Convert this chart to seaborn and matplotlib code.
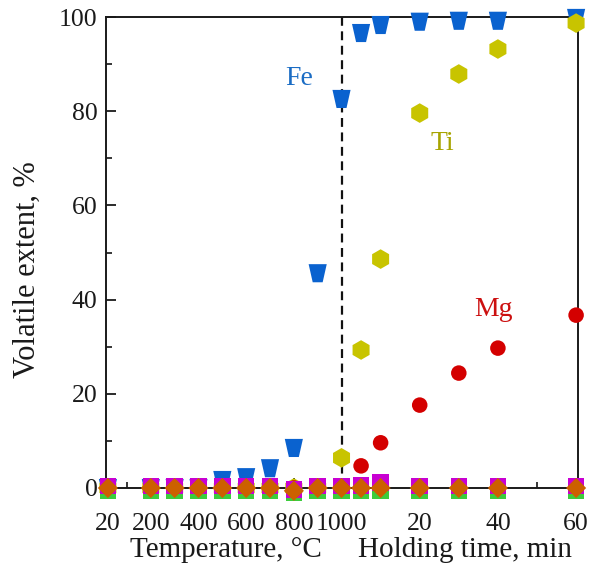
import numpy as np
import pandas as pd
import matplotlib
matplotlib.use("Agg")
import matplotlib.pyplot as plt
from matplotlib.path import Path
from matplotlib.ticker import FixedLocator
import seaborn as sns

# ---------------- data ----------------
temperatures = [20, 200, 300, 400, 500, 600, 700, 800, 900, 1000]   # degC
hold_times = [5, 10, 20, 30, 40, 60]                                 # min

fe_temp = [0, 0, 0, 0, 1.7, 2.3, 4.2, 8.5, 45.6, 82.6]
fe_time = [96.6, 98.3, 99.0, 99.2, 99.2, 99.8]
ti_temp = [0, 0, 0, 0, 0, 0, 0, 0, 0, 6.4]
ti_time = [29.3, 48.6, 79.6, 87.9, 93.2, 98.7]
mg_temp = [0, 0, 0, 0, 0, 0, 0, 0, 0, 0]
mg_time = [4.7, 9.6, 17.6, 24.4, 29.7, 36.7]
green_temp = [-0.5, -0.5, -0.5, -0.5, -0.5, -0.5, -0.5, -1.0, -0.5, -0.5]
green_time = [-0.5, -0.5, -0.5, -0.5, -0.5, -0.5]
magenta_temp = [0.4, 0.4, 0.4, 0.4, 0.4, 0.4, 0.4, -0.3, 0.4, 0.4]
magenta_time = [0.5, 1.2, 0.4, 0.4, 0.4, 0.4]
orange_temp = [0, 0, 0, 0, 0, 0, 0, -0.6, 0, 0]
orange_time = [0, 0, 0, 0, 0, 0]

temp_tick_labels = ["20", "200", "400", "600", "800", "1000"]
temp_ticks = [20, 200, 400, 600, 800, 1000]
time_tick_labels = ["20", "40", "60"]
time_ticks = [20, 40, 60]

# unified horizontal scale: temperature part, then holding-time part after 1000 degC
MIN_SCALE = 16.4   # degC-equivalent width of one minute on the shared axis


def t_pos(t):
    return 1000 + np.asarray(t, dtype=float) * MIN_SCALE


pos = list(temperatures) + list(t_pos(hold_times))

series = {
    "Fe": fe_temp + fe_time,
    "Ti": ti_temp + ti_time,
    "Mg": mg_temp + mg_time,
    "green": green_temp + green_time,
    "magenta": magenta_temp + magenta_time,
    "orange": orange_temp + orange_time,
}
df = pd.concat(
    [pd.DataFrame({"pos": pos, "value": v, "element": k}) for k, v in series.items()],
    ignore_index=True,
)

# ---------------- style ----------------
sns.set_theme(style="ticks")
plt.rcParams["font.family"] = ["Liberation Serif", "DejaVu Serif"]
plt.rcParams["axes.linewidth"] = 1.4

fig = plt.figure(figsize=(5.90, 5.66), dpi=100)
ax = fig.add_axes([106 / 590, 1 - 488 / 566, (578 - 106) / 590, (488 - 17) / 566])

trap = Path([(-1, 1), (1, 1), (0.55, -1), (-0.55, -1), (-1, 1)],
            [Path.MOVETO, Path.LINETO, Path.LINETO, Path.LINETO, Path.CLOSEPOLY])

styles = [
    ("Fe", "#0a62cf", trap, 170),
    ("Ti", "#c8c400", "h", 200),
    ("Mg", "#d40000", "o", 125),
    ("green", "#3ccc3c", "s", 140),
    ("magenta", "#c800d2", "s", 140),
    ("orange", "#cc6000", "D", 105),
]
for z, (name, col, mk, s) in enumerate(styles):
    sub = df[df["element"] == name]
    sns.scatterplot(data=sub, x="pos", y="value", ax=ax, color=col, marker=mk,
                    s=s, edgecolor="none", linewidth=0, legend=False, zorder=3 + z * 0.1,
                    clip_on=False)

ax.plot([1000, 1000], [0, 100], color="#111111", lw=1.6, ls=(0, (4, 2.5)), zorder=2)

ax.set_xlim(12, 1992)
ax.set_ylim(0, 100)

ax.set_xticks(temp_ticks + list(t_pos(time_ticks)))
ax.set_xticklabels(temp_tick_labels + time_tick_labels)
ax.xaxis.set_minor_locator(FixedLocator([100, 300, 500, 700, 900] + list(t_pos([10, 30, 50]))))
ax.set_yticks([0, 20, 40, 60, 80, 100])
ax.yaxis.set_minor_locator(FixedLocator([10, 30, 50, 70, 90]))

ax.tick_params(axis="both", which="major", direction="in", length=7, width=1.3,
               labelsize=18.5, colors="#1a1a1a")
ax.tick_params(axis="x", which="major", pad=18)
ax.tick_params(axis="y", which="major", pad=6)
ax.tick_params(axis="both", which="minor", direction="in", length=4, width=1.3)
ax.tick_params(top=False, right=False, which="both")
for sp in ax.spines.values():
    sp.set_color("#1a1a1a")
    sp.set_visible(True)

ax.set_xlabel("")
ax.set_ylabel("Volatile extent, %", fontsize=22, color="#1a1a1a")
ax.yaxis.set_label_coords(-0.136, 0.463)
ax.text(0.254, -0.132, "Temperature, °C", transform=ax.transAxes, ha="center",
        va="center", fontsize=21, color="#1a1a1a")
ax.text(0.760, -0.132, "Holding time, min", transform=ax.transAxes, ha="center",
        va="center", fontsize=21, color="#1a1a1a")

ax.text(823, 87, "Fe", color="#1a6cc4", fontsize=20, ha="center", va="center")
ax.text(t_pos(25.9), 73.2, "Ti", color="#a8a400", fontsize=20, ha="center", va="center")
ax.text(t_pos(38.8), 37.8, "Mg", color="#cc1010", fontsize=20, ha="center", va="center")

fig.savefig("out.png", dpi=100)
